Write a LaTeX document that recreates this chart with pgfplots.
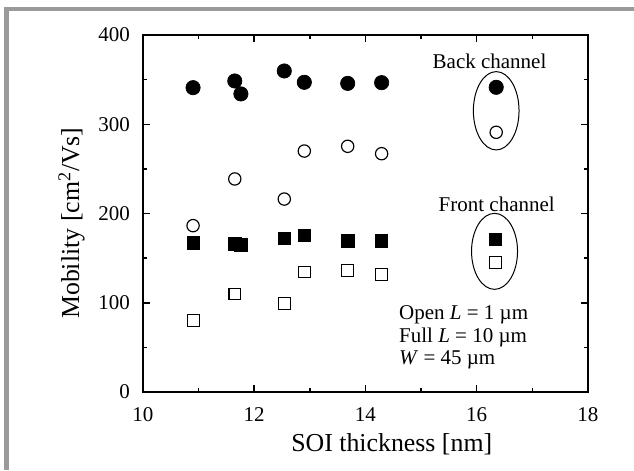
\documentclass[border=0pt]{standalone}
\usepackage{fontspec}
\setmainfont{Liberation Serif}
\usepackage{pgfplots}
\pgfplotsset{compat=1.18}
\definecolor{framegray}{HTML}{9A9A9A}
\begin{document}
\begin{tikzpicture}
\path[use as bounding box, fill=white] (0,0) rectangle (380.4pt,282pt);
\fill[framegray] (2.4pt,0) rectangle (5.4pt,278pt);
\fill[framegray] (2.4pt,275.6pt) rectangle (380.4pt,278pt);
\begin{axis}[
 at={(85.8pt,46.8pt)}, anchor=south west,
 width=267pt, height=214.2pt, scale only axis,
 xmin=10, xmax=18, ymin=0, ymax=400,
 xtick={10,12,...,18}, minor xtick={11,13,15,17},
 ytick={0,100,...,400}, minor ytick={50,150,250,350},
 tick align=inside, tick pos=both,
 major tick length=4.2pt, minor tick length=2.6pt,
 axis line style={line width=1.2pt},
 every tick/.style={line width=0.9pt, black},
 /pgf/number format/assume math mode=true,
 tick label style={font=\fontsize{12.6}{15}\selectfont},
 yticklabel style={xshift=-4.4pt},
 xticklabel style={yshift=-5.6pt},
 xlabel={SOI thickness [nm]},
 ylabel={Mobility [cm\textsuperscript{2}/Vs]},
 label style={font=\fontsize{15.5}{18}\selectfont},
 xlabel style={at={(axis description cs:0.559,-0.1672)}, anchor=base},
 ylabel style={at={(axis description cs:-0.1438,0.473)}, anchor=base},
 clip=false,
]
% back channel, full (filled circles)
\addplot[only marks, mark=*, mark size=4.3pt, mark options={fill=black, draw=black}]
 coordinates {(10.9,341) (11.65,348.5) (11.76,334) (12.54,359.7) (12.9,347) (13.68,345.8) (14.29,346.6) (16.35,341.4)};
% back channel, open (open circles)
\addplot[only marks, mark=o, mark size=3.7pt, mark options={fill=white, draw=black, line width=0.7pt}]
 coordinates {(10.9,186.4) (11.65,238.7) (12.54,216.2) (12.9,270) (13.68,275.3) (14.29,267) (16.35,291)};
% front channel, full (filled squares)
\addplot[only marks, mark=square*, mark size=3.7pt, mark options={fill=black, draw=black}]
 coordinates {(10.91,167.3) (11.65,166) (11.76,165) (12.54,172.5) (12.9,175.5) (13.68,169.2) (14.29,169.2) (16.34,171)};
% front channel, open (open squares)
\addplot[only marks, mark=square, mark size=3.5pt, mark options={fill=white, draw=black, line width=0.7pt}]
 coordinates {(10.91,80) (11.65,109.8) (12.54,99) (12.9,134.5) (13.68,136.3) (14.29,131.4) (16.34,145.3)};
\draw[line width=0.6pt] (axis cs:16.35,315.1) ellipse [x radius=13.7pt, y radius=23.5pt];
\draw[line width=0.6pt] (axis cs:16.32,157.6) ellipse [x radius=13.8pt, y radius=22.8pt];
\node[anchor=base, inner sep=0pt, font=\fontsize{12.6}{15}\selectfont] at (axis cs:16.23,362.7) {Back channel};
\node[anchor=base, inner sep=0pt, font=\fontsize{12.6}{15}\selectfont] at (axis cs:16.36,202) {Front channel};
\node[anchor=base west, inner sep=0pt, font=\fontsize{12.6}{15}\selectfont] at (axis cs:14.6,80.7) {Open \textit{L} = 1 µm};
\node[anchor=base west, inner sep=0pt, font=\fontsize{12.6}{15}\selectfont] at (axis cs:14.6,55.3) {Full \textit{L} = 10 µm};
\node[anchor=base west, inner sep=0pt, font=\fontsize{12.6}{15}\selectfont] at (axis cs:14.6,30.3) {\textit{W} = 45 µm};
\end{axis}
\end{tikzpicture}
\end{document}
